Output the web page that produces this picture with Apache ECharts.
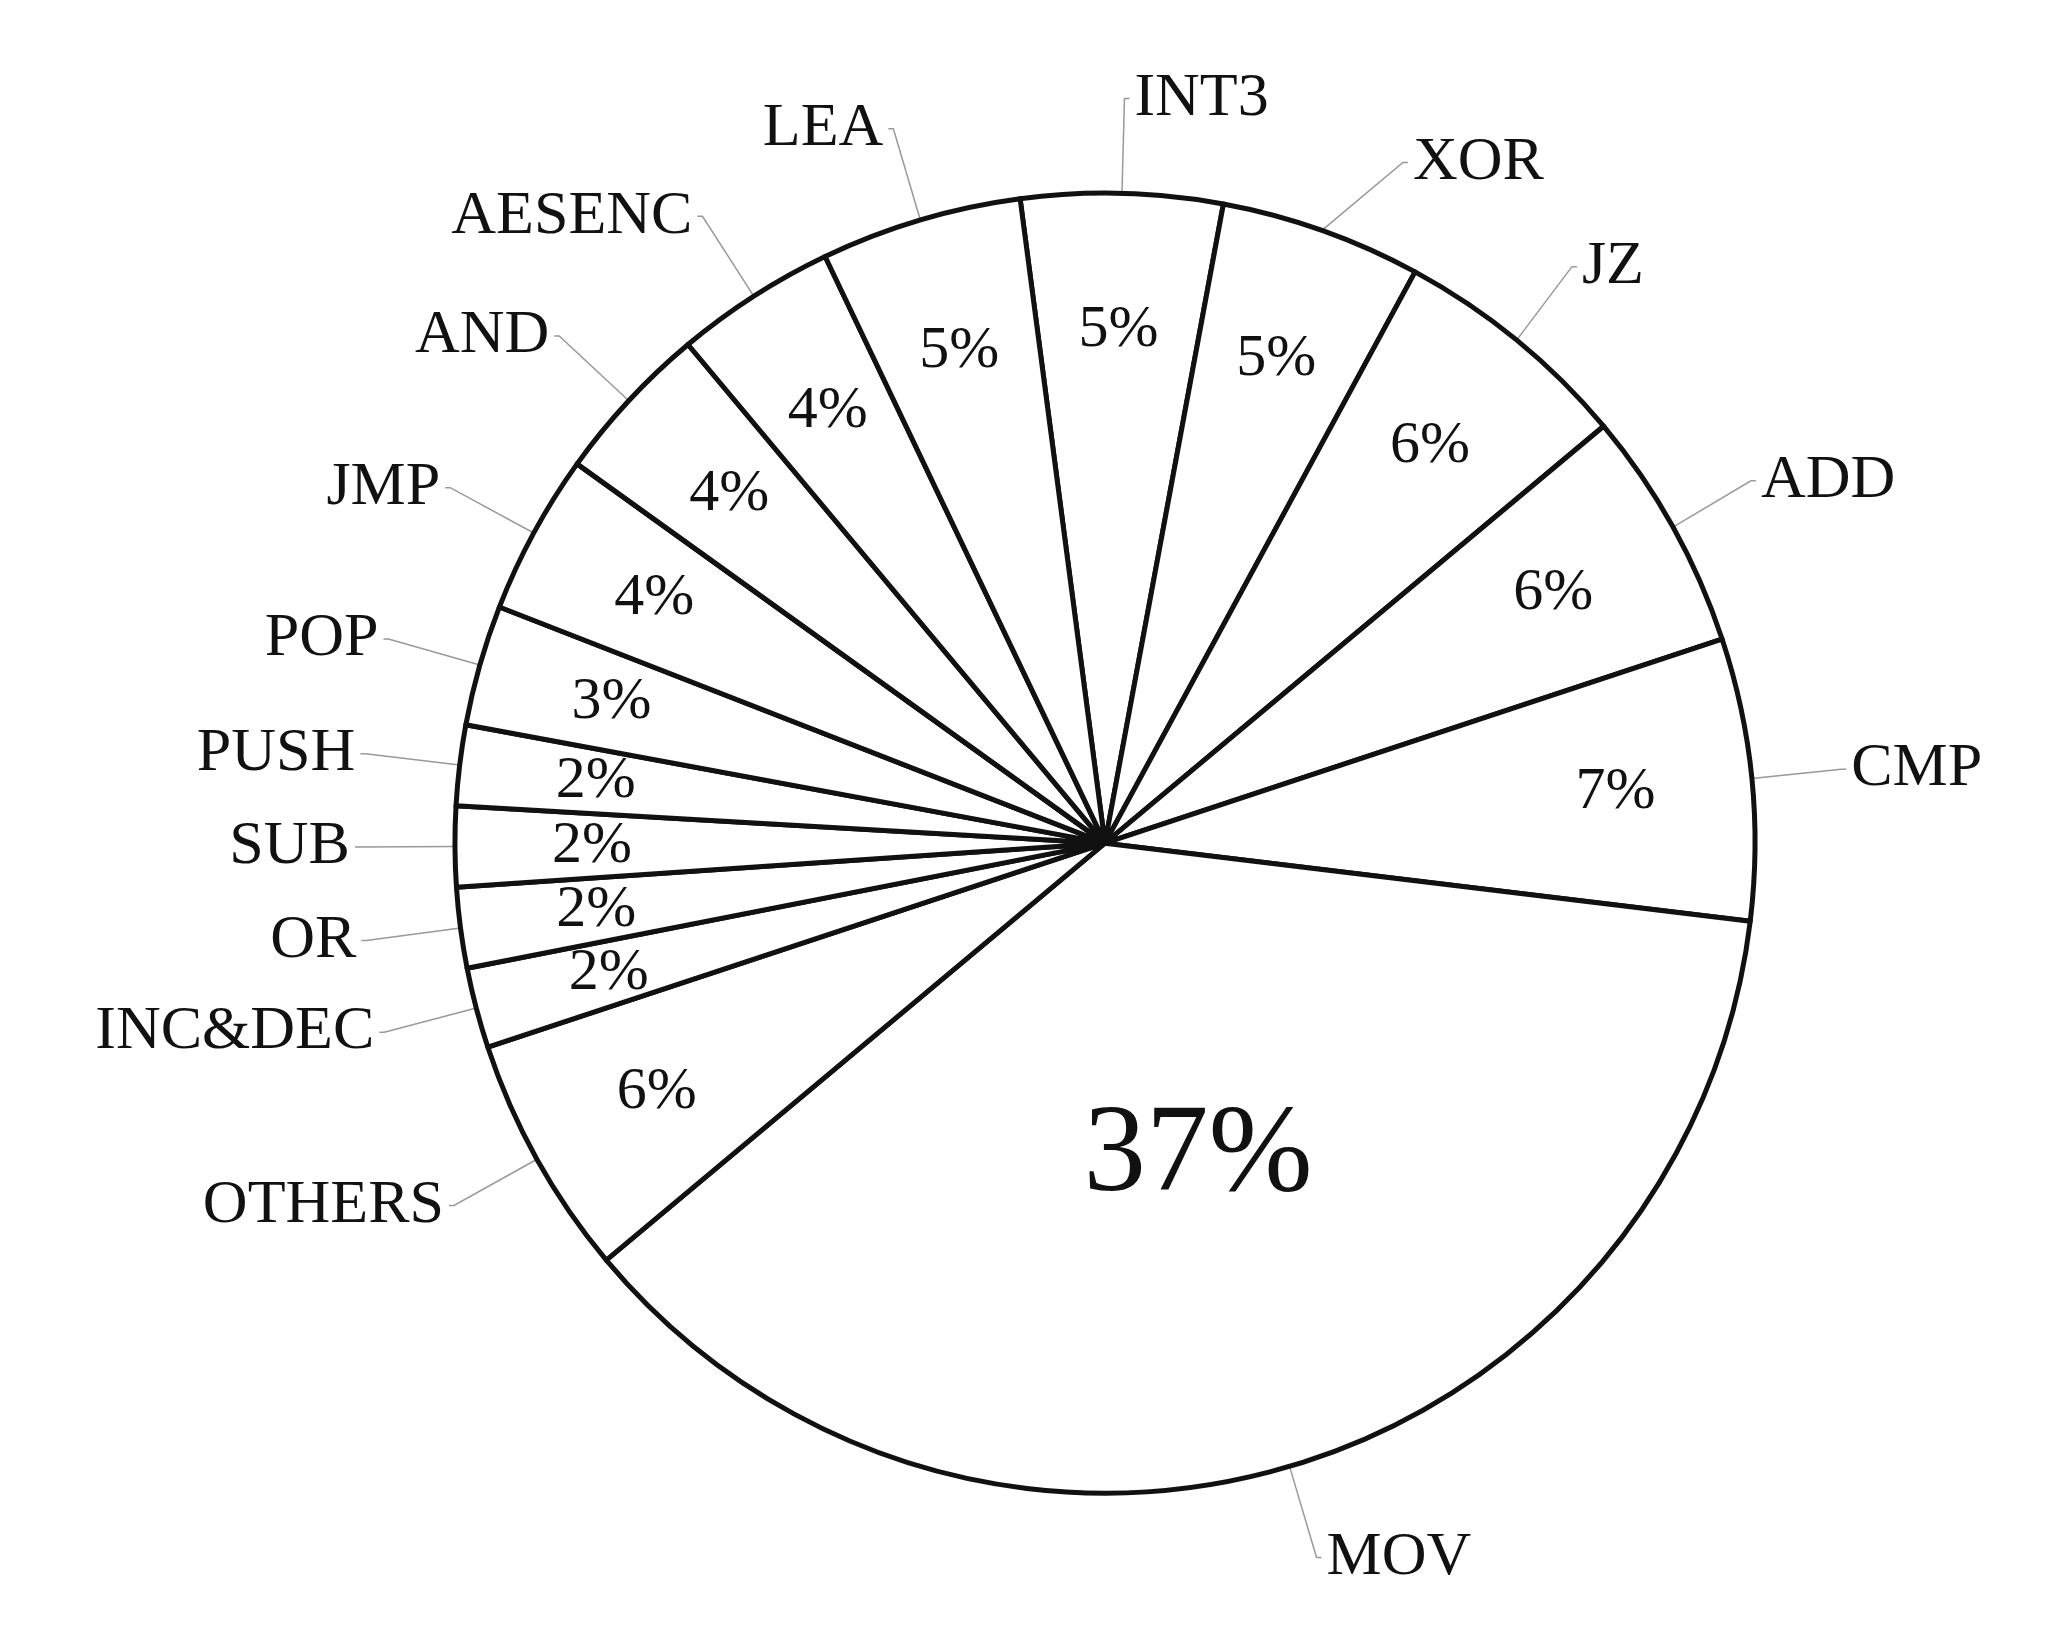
<!doctype html>
<html lang="en">
<head>
	<meta charset="utf-8" />
	<script src="https://cdn.jsdelivr.net/npm/echarts@6/dist/echarts.min.js"></script>
	<style>body{margin:0;background:#fff}</style>
</head>
<body>
	<div id="main" style="width:2050px;height:1650px;"></div>
	<script>
		var names = ['INT3','XOR','JZ','ADD','CMP','MOV','OTHERS','INC&DEC','OR','SUB','PUSH','POP','JMP','AND','AESENC','LEA'];
		var values = [5,5,6,6,7,37,6,2,2,2,2,3,4,4,4,5];

		var font = 'Liberation Serif';
		var chart = echarts.init(document.getElementById('main'));

		var mainData = names.map(function(n, i){
			return {name: n, value: values[i]};
		});
		var innerData = names.map(function(n, i){
			var d = {name: n, value: values[i]};
			if (n === 'MOV') d.label = {show: false};
			return d;
		});
		var movData = names.map(function(n, i){
			return {name: n, value: values[i], label: {show: n === 'MOV'}};
		});

		var center = ['53.9%', '51.1%'];
		chart.setOption({
			animation: false,
			backgroundColor: '#fff',
			series: [{
				type: 'pie',
				center: center,
				radius: [0, 650],
				startAngle: 97.5,
				clockwise: true,
				avoidLabelOverlap: true,
				data: mainData,
				itemStyle: {color: '#fff', borderColor: '#111', borderWidth: 5},
				label: {position: 'outside', fontFamily: font, fontSize: 62, color: '#111', formatter: '{b}'},
				labelLine: {length: 95, length2: 5, lineStyle: {color: '#999', width: 1.5}},
				labelLayout: {hideOverlap: false},
				emphasis: {disabled: true}
			}, {
				type: 'pie',
				center: center,
				radius: [0, 650],
				startAngle: 97.5,
				data: movData,
				silent: true,
				itemStyle: {color: 'transparent', borderWidth: 0},
				label: {position: 'inside', fontFamily: font, fontSize: 125, color: '#111', formatter: '{d}%'},
				labelLine: {show: false},
				labelLayout: {hideOverlap: false}
			}, {
				type: 'pie',
				center: center,
				radius: [370, 650],
				startAngle: 97.5,
				data: innerData,
				silent: true,
				avoidLabelOverlap: false,
				itemStyle: {color: 'transparent', borderWidth: 0},
				label: {position: 'inside', fontFamily: font, fontSize: 60, color: '#111', formatter: function(p){ return p.value + '%'; }},
				labelLine: {show: false},
				labelLayout: {hideOverlap: false}
			}]
		});
	</script>
</body>
</html>
